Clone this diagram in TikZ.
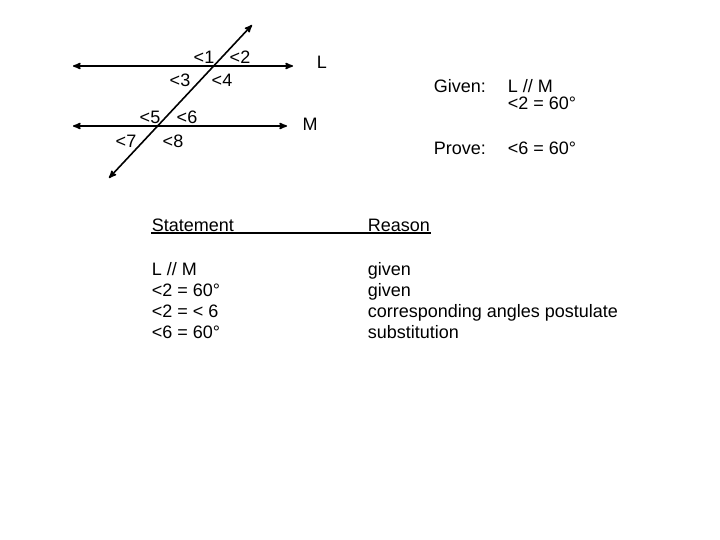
\documentclass[tikz,border=0pt]{standalone}
\usepackage{fontspec}
\setmainfont{Liberation Sans}
\usetikzlibrary{arrows}

\begin{document}
\begin{tikzpicture}[x=1pt, y=-1pt, line width=1.6pt, >=stealth',
		lbl/.style={inner sep=0pt, font=\fontsize{18}{20}\selectfont},
		txt/.style={inner sep=0pt, anchor=base west, font=\fontsize{18}{20}\selectfont}]
		\useasboundingbox (0, 0) rectangle (720, 540);

		% parallel lines and transversal
		\coordinate (Lw) at (73, 66);
		\coordinate (Le) at (293, 66);
		\coordinate (Mw) at (73, 126);
		\coordinate (Me) at (287, 126);
		\coordinate (Tn) at (252, 25);
		\coordinate (Ts) at (109, 178);
		\draw [<->] (Lw) -- (Le);
		\draw [<->] (Mw) -- (Me);
		\draw [<->] (Ts) -- (Tn);

		\node[lbl] (nameL) at (322, 62) {L};
		\node[lbl] (nameM) at (310, 124) {M};

		\node[lbl] (a1) at (204, 57) {<1};
		\node[lbl] (a2) at (240, 57) {<2};
		\node[lbl] (a3) at (180, 80) {<3};
		\node[lbl] (a4) at (222, 80) {<4};
		\node[lbl] (a5) at (150, 117) {<5};
		\node[lbl] (a6) at (187, 117) {<6};
		\node[lbl] (a7) at (126, 141) {<7};
		\node[lbl] (a8) at (173, 141) {<8};

		% given and prove
		\node[txt] (given) at (433, 93) {Given:};
		\node[txt] (givenA) at (507, 93) {L // M};
		\node[txt] (givenB) at (507, 110) {<2 = 60°};
		\node[txt] (prove) at (433, 155) {Prove:};
		\node[txt] (proveA) at (507, 155) {<6 = 60°};

		% proof table
		\node[txt] (stmt) at (151, 231) {Statement};
		\node[txt] (rsn) at (367, 231) {Reason};
		\draw [line width=1.2pt] (151, 233) coordinate (ul) -- (ul -| rsn.east);

		\node[txt] (s1) at (151, 275) {L // M};
		\node[txt] (s2) at (151, 296) {<2 = 60°};
		\node[txt] (s3) at (151, 317) {<2 = < 6};
		\node[txt] (s4) at (151, 338) {<6 = 60°};

		\node[txt] (r1) at (367, 275) {given};
		\node[txt] (r2) at (367, 296) {given};
		\node[txt] (r3) at (367, 317) {corresponding angles postulate};
		\node[txt] (r4) at (367, 338) {substitution};
\end{tikzpicture}
\end{document}
